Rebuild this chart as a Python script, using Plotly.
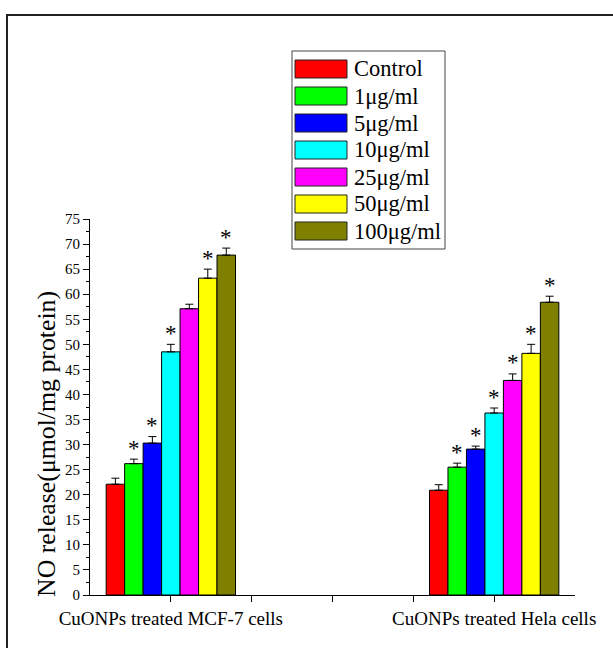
import plotly.graph_objects as go

# ---- data ----
groups = ["CuONPs treated MCF-7 cells", "CuONPs treated Hela cells"]
group_pos = [1, 5]
series = ["Control", "1μg/ml", "5μg/ml", "10μg/ml", "25μg/ml", "50μg/ml", "100μg/ml"]
values_mcf7 = [22.1, 26.2, 30.3, 48.5, 57.1, 63.2, 67.8]
values_hela = [20.9, 25.5, 29.1, 36.3, 42.8, 48.2, 58.4]
err_mcf7 = [1.2, 0.9, 1.3, 1.5, 0.9, 1.8, 1.4]
err_hela = [1.1, 0.8, 0.6, 1.0, 1.3, 1.8, 1.2]
sig_mcf7 = [0, 1, 1, 1, 0, 1, 1]
sig_hela = [0, 1, 1, 1, 1, 1, 1]
colors = ["#FF0000", "#00FF00", "#0000FF", "#00FFFF", "#FF00FF", "#FFFF00", "#808000"]
y_ticks = list(range(0, 80, 5))

FONT = "'Liberation Serif', 'Times New Roman', serif"
W, H = 613, 648
ML, MR, MT, MB = 90, 38, 219, 53
PW, PH = W - ML - MR, H - MT - MB

def px(xp):
    return (xp - ML) / PW

def py(yp):
    return (H - MB - yp) / PH

n = len(series)
group_width = 1.6
bw = group_width / n

fig = go.Figure()
annotations = []
for i, name in enumerate(series):
    off = (i - (n - 1) / 2) * bw
    xs = [g + off for g in group_pos]
    vals = [values_mcf7[i], values_hela[i]]
    errs = [err_mcf7[i], err_hela[i]]
    fig.add_trace(go.Bar(
        x=xs, y=vals, width=bw, name=name,
        marker=dict(color=colors[i], line=dict(color="black", width=1)),
        error_y=dict(type="data", symmetric=False, array=errs, arrayminus=[0, 0],
                     color="black", thickness=1, width=4),
        showlegend=False,
    ))
    for xv, v, e, s in zip(xs, vals, errs, [sig_mcf7[i], sig_hela[i]]):
        if s:
            annotations.append(dict(x=xv, y=v + e, xref="x", yref="y", text="*",
                                    showarrow=False, yanchor="middle", yshift=11,
                                    font=dict(family=FONT, size=23, color="black")))

# custom legend
shapes = []
lx0, lx1, ly0, ly1 = 292, 445, 51, 249
shapes.append(dict(type="rect", xref="paper", yref="paper",
                   x0=px(lx0), x1=px(lx1), y0=py(ly1), y1=py(ly0),
                   line=dict(color="#444", width=1), fillcolor="white", layer="above"))
for i, name in enumerate(series):
    cy = 69 + 27 * i
    shapes.append(dict(type="rect", xref="paper", yref="paper",
                       x0=px(295), x1=px(347), y0=py(cy + 9), y1=py(cy - 9),
                       line=dict(color="#222", width=1), fillcolor=colors[i], layer="above"))
    annotations.append(dict(x=px(352), y=py(cy), xref="paper", yref="paper",
                            text=name, showarrow=False, xanchor="left", yanchor="middle",
                            font=dict(family=FONT, size=22.5, color="black")))

# outer frame (top and left edges visible)
shapes.append(dict(type="path", xref="paper", yref="paper",
                   path=f"M {px(7)} {py(700)} L {px(7)} {py(15)} L {px(700)} {py(15)}",
                   line=dict(color="#222", width=2)))

# y-axis title
annotations.append(dict(x=px(46), y=py(444), xref="paper", yref="paper",
                        text="NO release(μmol/mg protein)", textangle=-90, showarrow=False,
                        xanchor="center", yanchor="middle",
                        font=dict(family=FONT, size=25.8, color="black")))

fig.update_layout(
    width=W, height=H,
    margin=dict(l=ML, r=MR, t=MT, b=MB, pad=0, autoexpand=False),
    paper_bgcolor="white", plot_bgcolor="white",
    barmode="overlay",
    shapes=shapes, annotations=annotations,
    font=dict(family=FONT, color="black"),
    xaxis=dict(range=[0, 6], tickvals=[1, 2, 3, 4, 5],
               ticktext=[groups[0], "", "", "", groups[1]],
               showline=True, linecolor="black", linewidth=1,
               ticks="outside", ticklen=6, tickcolor="black",
               showgrid=False, zeroline=False, automargin=False,
               tickfont=dict(family=FONT, size=19, color="black")),
    yaxis=dict(range=[0, 75], tickvals=y_ticks,
               showline=True, linecolor="black", linewidth=1,
               ticks="outside", ticklen=6, tickcolor="black",
               minor=dict(ticks="outside", ticklen=3, dtick=2.5, tickcolor="black", showgrid=False),
               showgrid=False, zeroline=False, automargin=False,
               tickfont=dict(family=FONT, size=15, color="black")),
)

fig.write_html("out.html", config={"displayModeBar": False},
               post_script="document.body.style.margin='0';")
